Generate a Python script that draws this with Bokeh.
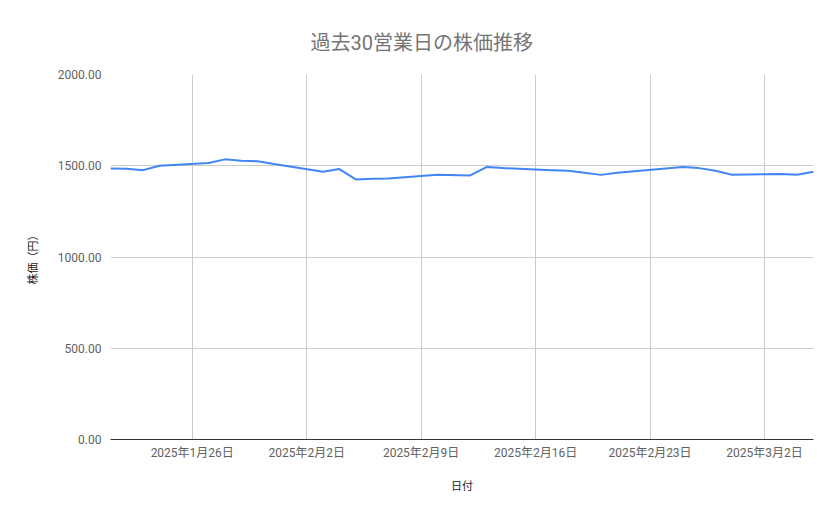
import pandas as pd

from bokeh.embed import file_html
from bokeh.models import FixedTicker, NumeralTickFormatter, Range1d
from bokeh.plotting import figure
from bokeh.resources import INLINE

# 過去30営業日の終値
dates = [
    "2025-01-21", "2025-01-22", "2025-01-23", "2025-01-24", "2025-01-27",
    "2025-01-28", "2025-01-29", "2025-01-30", "2025-01-31", "2025-02-03",
    "2025-02-04", "2025-02-05", "2025-02-06", "2025-02-07", "2025-02-10",
    "2025-02-12", "2025-02-13", "2025-02-14", "2025-02-17", "2025-02-18",
    "2025-02-19", "2025-02-20", "2025-02-21", "2025-02-25", "2025-02-26",
    "2025-02-27", "2025-02-28", "2025-03-03", "2025-03-04", "2025-03-05",
]
prices = [
    1485, 1484, 1476, 1500, 1515, 1535, 1527, 1525, 1509, 1467,
    1482, 1425, 1429, 1430, 1451, 1447, 1493, 1487, 1476, 1472,
    1462, 1450, 1462, 1493, 1487, 1473, 1451, 1455, 1451, 1467,
]

tick_dates = ["2025-01-26", "2025-02-02", "2025-02-09", "2025-02-16", "2025-02-23", "2025-03-02"]
tick_labels = ["2025年1月26日", "2025年2月2日", "2025年2月9日", "2025年2月16日", "2025年2月23日", "2025年3月2日"]
y_ticks = [0, 500, 1000, 1500, 2000]

FONT = "Roboto, 'Noto Sans CJK JP', sans-serif"

x = pd.to_datetime(dates)
tick_ms = [pd.Timestamp(d).value // 10**6 for d in tick_dates]

p = figure(width=823, height=503, x_axis_type="datetime",
           x_range=Range1d(x[0], x[-1]), y_range=Range1d(0, 2000),
           output_backend="svg", toolbar_location=None,
           min_border_left=110, min_border_right=10,
           min_border_top=74, min_border_bottom=64)

p.title.text = "過去30営業日の株価推移"
p.title.text_font = FONT
p.title.text_font_size = "20px"
p.title.text_font_style = "normal"
p.title.text_color = "#757575"
p.title.align = "left"
p.title.offset = 200
p.title.standoff = 40

p.outline_line_color = None
p.background_fill_color = "white"
p.border_fill_color = "white"

p.line(x, prices, line_color="#4285F4", line_width=2)

# x axis
p.xaxis.ticker = FixedTicker(ticks=tick_ms)
p.xaxis.major_label_overrides = dict(zip(tick_ms, tick_labels))
p.xaxis.axis_line_color = "#333333"
p.xaxis.major_label_standoff = 6
p.xaxis.axis_label = "日付"
p.xaxis.axis_label_standoff = 17

# y axis
p.yaxis.ticker = FixedTicker(ticks=y_ticks)
p.yaxis.formatter = NumeralTickFormatter(format="0.00")
p.yaxis.axis_line_color = None
p.yaxis.major_label_standoff = 9
p.yaxis.axis_label = "株価（円）"
p.yaxis.axis_label_standoff = 15

for ax in (p.xaxis, p.yaxis):
    ax.major_tick_line_color = None
    ax.minor_tick_line_color = None
    ax.major_tick_out = 0
    ax.major_tick_in = 0
    ax.minor_tick_out = 0
    ax.minor_tick_in = 0
    ax.major_label_text_font = FONT
    ax.major_label_text_font_size = "12px"
    ax.major_label_text_color = "#616161"
    ax.axis_label_text_font = FONT
    ax.axis_label_text_font_size = "11px"
    ax.axis_label_text_font_style = "normal"
    ax.axis_label_text_color = "#222222"

p.xgrid.grid_line_color = "#cccccc"
p.ygrid.grid_line_color = "#cccccc"

open("out.html", "w").write(file_html(p, INLINE))
